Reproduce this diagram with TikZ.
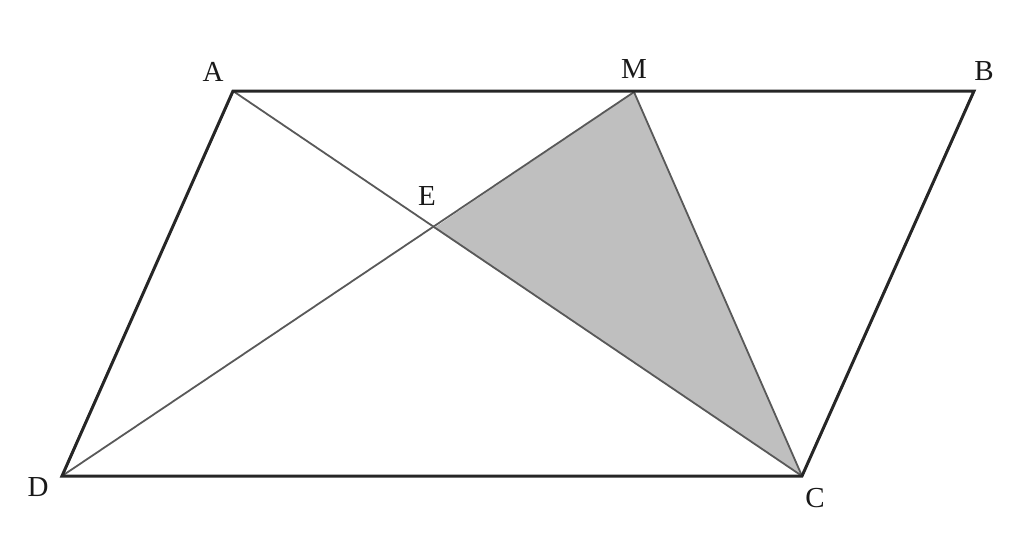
\documentclass[tikz,border=0pt]{standalone}
\usepackage{fontspec}
\setmainfont{Liberation Serif}
\begin{document}
\begin{tikzpicture}[x=1pt,y=-1pt,
  outer/.style={draw=black!85,line width=3pt,line join=miter},
  diag/.style={draw=black!65,line width=1.8pt},
  shade/.style={fill=black!25},
  lbl/.style={font=\fontsize{29}{32}\selectfont,text=black!90,inner sep=0pt}]
\useasboundingbox (0,0) rectangle (1024,539);
\coordinate (A) at (233,91);
\coordinate (M) at (634,92);
\coordinate (B) at (974,91);
\coordinate (D) at (62,476);
\coordinate (C) at (802,476);
\coordinate (E) at (434,228);
\fill[shade] (E) -- (M) -- (C) -- cycle;
\draw[diag] (A) -- (C);
\draw[diag] (D) -- (M);
\draw[diag] (M) -- (C);
\draw[outer] (A) -- (B) -- (C) -- (D) -- cycle;
\node[lbl] (lA) at (213,72) {A};
\node[lbl] (lM) at (634,69) {M};
\node[lbl] (lB) at (984,71) {B};
\node[lbl] (lE) at (427,196) {E};
\node[lbl] (lD) at (38,487) {D};
\node[lbl] (lC) at (815,498) {C};
\end{tikzpicture}
\end{document}
